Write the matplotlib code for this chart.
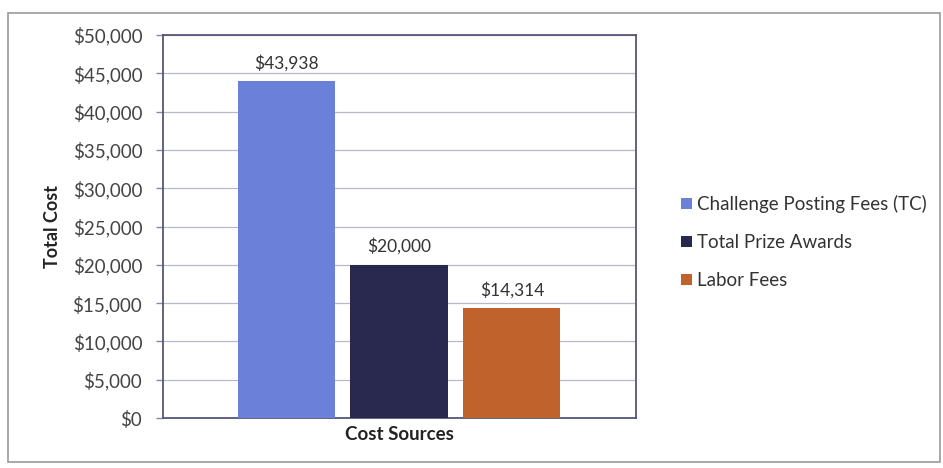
import matplotlib
matplotlib.use("Agg")
import matplotlib.pyplot as plt
from matplotlib.patches import Rectangle
from matplotlib.ticker import FuncFormatter

# Données
sources = ["Challenge Posting Fees (TC)", "Total Prize Awards", "Labor Fees"]
costs = [43938, 20000, 14314]
bar_colors = ["#6b80d8", "#29294f", "#c0622b"]

plt.rcParams['font.family'] = ['Lato', 'DejaVu Sans']

fig = plt.figure(figsize=(9.43, 4.68), dpi=100)
# cadre extérieur
fig.patches.append(Rectangle((0.009, 0.013), 0.988, 0.96, transform=fig.transFigure,
                             fill=False, edgecolor="#9a9a9a", linewidth=1.2))

ax = fig.add_axes([0.1729, 0.1068, 0.5016, 0.8184])
x = range(len(sources))
bars = ax.bar(x, costs, width=0.86, color=bar_colors, label=sources, zorder=3)

for b, v in zip(bars, costs):
    ax.text(b.get_x() + b.get_width() / 2, v + 1300, f"${v:,.0f}",
            ha="center", va="bottom", fontsize=12.5, color="#333333")

ax.set_ylim(0, 50000)
ax.set_xlim(-1.09, 3.10)
ax.set_yticks(range(0, 50001, 5000))
ax.yaxis.set_major_formatter(FuncFormatter(lambda v, p: f"${v:,.0f}"))
ax.tick_params(axis="y", labelsize=13.5, colors="#444444", length=5, width=1, pad=10)
ax.tick_params(axis="y", color="#8888aa")
ax.set_xticks([])
ax.grid(axis="y", color="#b8b8c8", linewidth=0.9, zorder=0)
for s in ax.spines.values():
    s.set_color("#55557a")
    s.set_linewidth(1.3)

ax.set_ylabel("Total Cost", fontsize=13, fontweight="bold", color="#222222", labelpad=8)
ax.set_xlabel("Cost Sources", fontsize=13.5, fontweight="bold", color="#222222", labelpad=6)

ax.legend(handles=bars, labels=sources, loc="center left", bbox_to_anchor=(1.06, 0.46),
          frameon=False, fontsize=13.5, handlelength=0.55, handleheight=0.55,
          handletextpad=0.3, labelspacing=1.12, labelcolor="#333333")

fig.savefig("out.png", dpi=100)
